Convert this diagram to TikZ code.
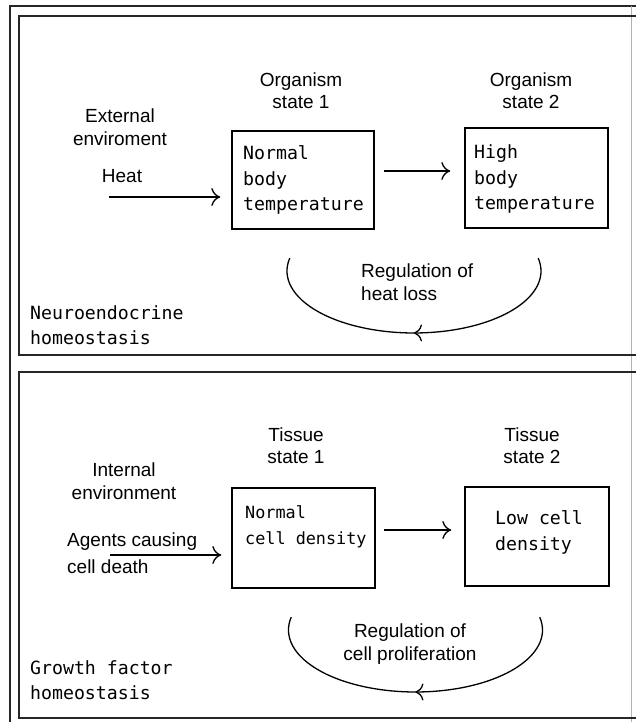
\documentclass[tikz,border=0pt]{standalone}
\usepackage{fontspec}
\setmainfont{Liberation Sans}
\newfontfamily\boxfont{DejaVu Sans Mono}
\usetikzlibrary{arrows.meta,decorations.markings}

\begin{document}
\begin{tikzpicture}[x=1pt,y=-1pt,
  label/.style={font=\fontsize{19}{22.5}\selectfont, align=center, inner sep=0pt},
  mono/.style={font=\boxfont\fontsize{18.2}{25.5}\selectfont, align=left, inner sep=0pt, anchor=west},
  statebox/.style={draw, line width=1.4pt, inner sep=0pt},
  frame/.style={line width=1.9pt, draw=black!85},
  arr/.style={line width=1.3pt, -{Computer Modern Rightarrow[length=9pt,width=18pt]}},
  loopline/.style={line width=1.3pt, postaction={decorate},
    decoration={markings, mark=at position 0.5 with {\arrow{Computer Modern Rightarrow[length=8pt,width=17pt]}}}}]
\useasboundingbox (0,0) rectangle (636,722);
\clip (0,0) rectangle (636,722);
\fill[white] (0,0) rectangle (636,722);

% outer frame and the two panels
\draw[frame] (10,740) -- (10,6) -- (640,6);
\draw[black!30, line width=0.8pt] (631,6) -- (631,722);
\draw[frame] (640,16) -- (19,16) -- (19,355) -- (640,355);
\draw[frame] (640,372) -- (19,372) -- (19,718) -- (640,718);

% ---------- neuroendocrine panel ----------
\node[label] (ext) at (120,127) {External\\enviroment};
\node[label] (heat) at (122,176) {Heat};
\node[label] (org1) at (301,90.5) {Organism\\state 1};
\node[label] (org2) at (531,90.5) {Organism\\state 2};

\node[statebox, minimum width=142pt, minimum height=98pt] (b1) at (303,180) {};
\node[statebox, minimum width=143pt, minimum height=100pt] (b2) at (536.5,178) {};
\node[mono] (t1) at (243,180) {Normal\\body\\temperature};
\node[mono] (t2) at (474,179) {High\\body\\temperature};

\coordinate (heatsrc) at (109,197);
\draw[arr, shorten >=11pt] (heatsrc) -- ([yshift=-17pt]b1.west);
\draw[arr, shorten <=9pt, shorten >=14pt] ([yshift=9pt]b1.east) -- ([yshift=7pt]b2.west);

% feedback loop: a little more than half an ellipse, so both ends hook inwards
\coordinate (loopAR) at (538.2,258.1);
\draw[loopline] (loopAR) arc[start angle=-12, end angle=192, x radius=127, y radius=62];
\node[label, align=left, anchor=west] (reg1) at (361,282) {Regulation of\\heat loss};
\node[mono] (neuro) at (30,325) {Neuroendocrine\\homeostasis};

% ---------- growth factor panel ----------
\node[label] (int) at (124,481) {Internal\\environment};
\node[label, align=left, anchor=west] (agents) at (67,553) {Agents causing\\[5pt]cell death};
\node[label] (tis1) at (296,445.5) {Tissue\\state 1};
\node[label] (tis2) at (532,445.5) {Tissue\\state 2};

\node[statebox, minimum width=143pt, minimum height=100pt] (b3) at (303.5,538) {};
\node[statebox, minimum width=144pt, minimum height=99pt] (b4) at (537,536.5) {};
\node[mono, font=\boxfont\fontsize{16.8}{25.5}\selectfont] (t3) at (245,527) {Normal\\cell density};
\node[mono] (t4) at (495,532.5) {Low cell\\density};

\coordinate (agentsrc) at (110,555);
\draw[arr, shorten >=10pt] (agentsrc) -- ([yshift=-17pt]b3.west);
\draw[arr, shorten <=8.5pt, shorten >=13pt] ([yshift=8pt]b3.east) -- ([yshift=6.5pt]b4.west);

\coordinate (loopBR) at (539.7,617.1);
\draw[loopline] (loopBR) arc[start angle=-12, end angle=192, x radius=127, y radius=62];
\node[label] (reg2) at (410,644) {Regulation of\\cell proliferation};
\node[mono] (growth) at (30,680) {Growth factor\\homeostasis};
\end{tikzpicture}
\end{document}
